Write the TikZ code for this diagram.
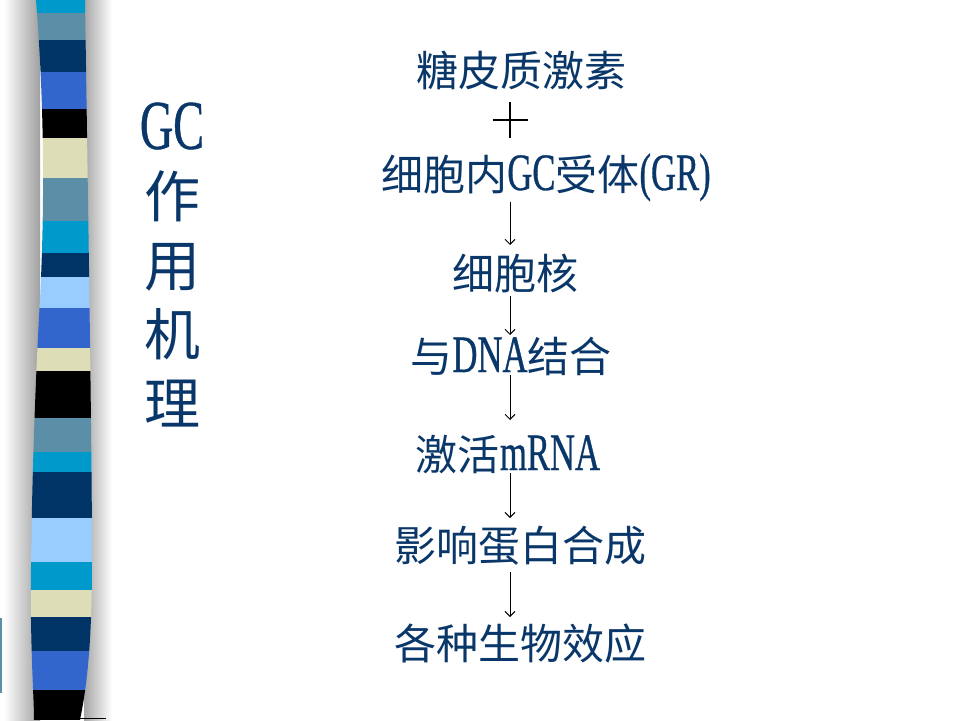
\documentclass[tikz,border=0pt]{standalone}
\usepackage{fontspec}
\newfontfamily\cjk{Noto Sans CJK SC}
\newfontfamily\lat[FakeStretch=0.66,Scale=1.25,FakeBold=0.6]{Liberation Serif}
\usetikzlibrary{arrows.meta}
\definecolor{txt}{RGB}{10,55,105}
\definecolor{cyanb}{RGB}{0,153,204}
\definecolor{steel}{RGB}{91,143,168}
\definecolor{navy}{RGB}{0,51,102}
\definecolor{royal}{RGB}{51,102,204}
\definecolor{beige}{RGB}{221,221,184}
\definecolor{lightb}{RGB}{153,204,255}
\newcommand\La[1]{{\lat #1}}
\tikzset{
  flow/.style={text=txt, font=\cjk\fontsize{42}{42}\selectfont, inner sep=0pt, outer sep=0pt, text height=37pt, text depth=5pt},
  titlestyle/.style={text=txt, font=\cjk\fontsize{56}{69}\selectfont, align=center, inner sep=0pt},
  arr/.style={draw=black, line width=0.9pt, -{Straight Barb[length=5pt,width=10pt]}},
  plusline/.style={draw=black, line width=1.1pt}
}
\begin{document}
\begin{tikzpicture}[x=1pt,y=-1pt]
\useasboundingbox (0,0) rectangle (960,720);
\fill[white] (0,0) rectangle (960,720);
% shadows
\shade[left color=white, right color=gray!75] (4,0) rectangle (40,720);
\shade[left color=gray!70, right color=white] (84,0) rectangle (112,720);
% strip
\begin{scope}
\clip (36,0) .. controls (44,100) and (45,200) .. (40,300) .. controls (34,400) and (30,550) .. (31,620) .. controls (32,680) and (34,700) .. (34,720) -- (80,720) .. controls (86,690) and (92,650) .. (92,560) .. controls (92,450) and (88,200) .. (85,0) -- cycle;
\fill[cyanb] (0,0) rectangle (120,13);
\fill[steel] (0,13) rectangle (120,40);
\fill[navy] (0,40) rectangle (120,72);
\fill[royal] (0,72) rectangle (120,109);
\fill[black] (0,109) rectangle (120,138);
\fill[beige] (0,138) rectangle (120,178);
\fill[steel] (0,178) rectangle (120,221);
\fill[cyanb] (0,221) rectangle (120,253);
\fill[navy] (0,253) rectangle (120,277);
\fill[lightb] (0,277) rectangle (120,308);
\fill[royal] (0,308) rectangle (120,348);
\fill[beige] (0,348) rectangle (120,371);
\fill[black] (0,371) rectangle (120,418);
\fill[steel] (0,418) rectangle (120,452);
\fill[cyanb] (0,452) rectangle (120,472);
\fill[navy] (0,472) rectangle (120,518);
\fill[lightb] (0,518) rectangle (120,562);
\fill[cyanb] (0,562) rectangle (120,590);
\fill[beige] (0,590) rectangle (120,617);
\fill[navy] (0,617) rectangle (120,651);
\fill[royal] (0,651) rectangle (120,690);
\fill[black] (0,690) rectangle (120,720);
\end{scope}
\fill[steel] (0,618) rectangle (2,693);
\draw[black, line width=1pt] (80,718.5) -- (106,718.5);
% title
\node[titlestyle] (title) at (172,265) {\La{GC}\\作\\用\\机\\理};
% flow
\coordinate (ax) at (510,0);
\node[flow] (gc) at (521,70) {糖皮质激素};
\coordinate (plus) at (510,120);
\draw[plusline] ([xshift=-17.5pt]plus) -- ([xshift=17.5pt]plus);
\draw[plusline] ([yshift=-18pt]plus) -- ([yshift=18pt]plus);
\node[flow] (gr) at (546,174) {细胞内\La{GC}受体\La{(GR)}};
\node[flow] (nuc) at (515,273) {细胞核};
\node[flow] (dna) at (511,356) {与\La{DNA}结合};
\node[flow] (mrna) at (508,454) {激活\La{mRNA}};
\node[flow] (prot) at (520,545) {影响蛋白合成};
\node[flow] (eff) at (520,643) {各种生物效应};
\draw[arr, shorten <=7pt, shorten >=7pt] (gr.south -| ax) -- (nuc.north -| ax);
\draw[arr, shorten <=2pt, shorten >=0pt] (nuc.south -| ax) -- (dna.north -| ax);
\draw[arr, shorten <=-2pt, shorten >=13pt] (dna.south -| ax) -- (mrna.north -| ax);
\draw[arr, shorten <=-2pt, shorten >=6pt] (mrna.south -| ax) -- (prot.north -| ax);
\draw[arr, shorten <=6pt, shorten >=5pt] (prot.south -| ax) -- (eff.north -| ax);
\end{tikzpicture}
\end{document}
